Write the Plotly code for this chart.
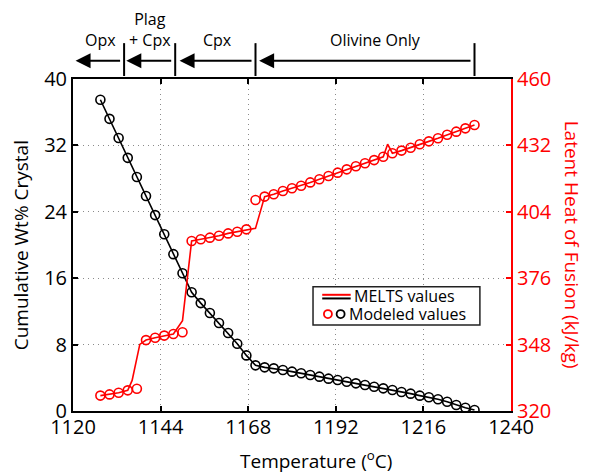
import plotly.graph_objects as go

# ---- data -------------------------------------------------------------
# temperature steps of the crystallisation model (deg C)
temps = [1127.5, 1130.0, 1132.5, 1135.0, 1137.5, 1140.0, 1142.5, 1145.0, 1147.5, 1150.0,
         1152.5, 1155.0, 1157.5, 1160.0, 1162.5, 1165.0, 1167.5, 1170.0, 1172.5, 1175.0,
         1177.5, 1180.0, 1182.5, 1185.0, 1187.5, 1190.0, 1192.5, 1195.0, 1197.5, 1200.0,
         1202.5, 1205.0, 1207.5, 1210.0, 1212.5, 1215.0, 1217.5, 1220.0, 1222.5, 1225.0,
         1227.5, 1230.0]

# cumulative crystallised mass (wt%)
crystal_wt = [37.5, 35.2, 32.9, 30.5, 28.2, 25.9, 23.6, 21.3, 18.9, 16.6,
              14.3, 13.0, 11.8, 10.6, 9.4, 8.1, 6.7, 5.5, 5.26, 5.14,
              4.94, 4.74, 4.54, 4.34, 4.14, 3.90, 3.73, 3.53, 3.33, 3.13,
              2.93, 2.73, 2.53, 2.29, 2.09, 1.85, 1.65, 1.41, 1.12, 0.72,
              0.40, 0.12]

# modeled latent heat of fusion (kJ/kg)
modeled_latent = [326.5, 327.0, 327.7, 328.7, 329.4, 349.9, 350.9, 351.8, 352.5, 353.2,
                  391.7, 392.4, 393.1, 393.9, 394.9, 395.6, 396.6, 409.0, 410.4, 411.4,
                  412.8, 413.9, 415.0, 416.4, 417.7, 419.1, 420.5, 421.9, 423.2, 424.5,
                  425.8, 427.2, 428.7, 429.8, 431.0, 432.5, 433.7, 435.0, 436.5, 437.8,
                  439.2, 440.6]

# MELTS latent heat curve (kJ/kg), with extra nodes at the phase changes
melts_temps = [1127.5, 1130.0, 1132.5, 1135.0, 1136.2, 1138.3, 1140.0, 1142.5, 1145.0, 1147.5,
               1150.0, 1152.5, 1155.0, 1157.5, 1160.0, 1162.5, 1165.0, 1167.5, 1170.0, 1172.5,
               1175.0, 1177.5, 1180.0, 1182.5, 1185.0, 1187.5, 1190.0, 1192.5, 1195.0, 1197.5,
               1200.0, 1202.5, 1205.0, 1206.2, 1207.5, 1210.0, 1212.5, 1215.0, 1217.5, 1220.0,
               1222.5, 1225.0, 1227.5, 1230.0]
melts_latent = [326.5, 327.0, 327.7, 328.7, 332.9, 348.1, 349.9, 350.9, 351.8, 352.5,
                358.1, 391.7, 392.4, 393.1, 393.9, 394.9, 395.6, 396.6, 397.0, 410.4,
                411.4, 412.8, 413.9, 415.0, 416.4, 417.7, 419.1, 420.5, 421.9, 423.2,
                424.5, 425.8, 427.2, 432.5, 428.7, 429.8, 431.0, 432.5, 433.7, 435.0,
                436.5, 437.8, 439.2, 440.6]

# MELTS crystal curve
melts_crystal = crystal_wt

# crystallising assemblage intervals (boundaries in deg C, hot -> cold)
phase_labels = ["Olivine Only", "Cpx", "Plag<br>+ Cpx", "Opx"]
phase_hot = [1230.0, 1170.0, 1148.0, 1134.0]
phase_cold = [1171.0, 1149.2, 1134.6, 1120.7]
phase_label_x = [1203.0, 1159.5, 1141.0, 1127.5]

x_ticks = [1120, 1144, 1168, 1192, 1216, 1240]
y_ticks = [0, 8, 16, 24, 32, 40]
y2_ticks = [320, 348, 376, 404, 432, 460]

RED = "#ff0000"
FONT = "Open Sans"

fig = go.Figure()

fig.add_trace(go.Scatter(x=temps, y=melts_crystal, mode="lines",
                         line=dict(color="black", width=1.6), showlegend=False))
fig.add_trace(go.Scatter(x=temps, y=crystal_wt, mode="markers",
                         marker=dict(symbol="circle-open", size=9, color="black",
                                     line=dict(width=1.6, color="black")),
                         showlegend=False))
fig.add_trace(go.Scatter(x=melts_temps, y=melts_latent, mode="lines", yaxis="y2",
                         line=dict(color=RED, width=1.6), showlegend=False))
fig.add_trace(go.Scatter(x=temps, y=modeled_latent, mode="markers", yaxis="y2",
                         marker=dict(symbol="circle-open", size=9, color=RED,
                                     line=dict(width=1.6, color=RED)),
                         showlegend=False))

shapes = []
annotations = []

# phase interval arrows above the plot
for lab, hot, cold, lx in zip(phase_labels, phase_hot, phase_cold, phase_label_x):
    shapes.append(dict(type="line", xref="x", yref="paper", x0=hot, x1=hot,
                       y0=1.009, y1=1.108, line=dict(color="black", width=2)))
    annotations.append(dict(x=cold, y=1.055, xref="x", yref="paper",
                            ax=hot, ay=0, axref="x", ayref="pixel",
                            showarrow=True, arrowhead=2, arrowsize=1.5,
                            arrowwidth=2, arrowcolor="black", standoff=0, text=" "))
    annotations.append(dict(x=lx, y=1.078, xref="x", yref="paper", text=lab,
                            showarrow=False, xanchor="center", yanchor="bottom",
                            font=dict(family=FONT, size=16, color="black")))

# legend box
shapes.append(dict(type="rect", xref="paper", yref="paper", x0=0.548, x1=0.929,
                   y0=0.259, y1=0.374, line=dict(color="#222222", width=1.5),
                   fillcolor="white", layer="above"))
shapes.append(dict(type="line", xref="paper", yref="paper", x0=0.569, x1=0.634,
                   y0=0.350, y1=0.350, line=dict(color=RED, width=2), layer="above"))
shapes.append(dict(type="line", xref="paper", yref="paper", x0=0.569, x1=0.634,
                   y0=0.339, y1=0.339, line=dict(color="black", width=2), layer="above"))
for cx, col in ((0.582, RED), (0.611, "black")):
    shapes.append(dict(type="circle", xref="paper", yref="paper",
                       xsizemode="pixel", ysizemode="pixel",
                       xanchor=cx, yanchor=0.292, x0=-4, x1=4, y0=-4, y1=4,
                       line=dict(color=col, width=1.8), layer="above"))
annotations.append(dict(x=0.637, y=0.347, xref="paper", yref="paper",
                        text="MELTS values", showarrow=False, xanchor="left",
                        yanchor="middle", font=dict(family=FONT, size=16, color="black")))
annotations.append(dict(x=0.626, y=0.291, xref="paper", yref="paper",
                        text="Modeled values", showarrow=False, xanchor="left",
                        yanchor="middle", font=dict(family=FONT, size=16, color="black")))

# axis titles
annotations.append(dict(x=-0.118, y=0.5, xref="paper", yref="paper",
                        text="Cumulative Wt% Crystal", textangle=-90, showarrow=False,
                        xanchor="center", yanchor="middle",
                        font=dict(family=FONT, size=19, color="black")))
annotations.append(dict(x=1.14, y=0.5, xref="paper", yref="paper",
                        text="Latent Heat of Fusion (kJ/kg)", textangle=90, showarrow=False,
                        xanchor="center", yanchor="middle",
                        font=dict(family=FONT, size=19, color=RED)))
annotations.append(dict(x=0.555, y=-0.148, xref="paper", yref="paper",
                        text="Temperature (<sup>o</sup>C)", showarrow=False,
                        xanchor="center", yanchor="middle",
                        font=dict(family=FONT, size=19, color="black")))

grid = dict(showgrid=True, gridcolor="#8a8a8a", griddash="1px,4px", gridwidth=1)

fig.update_layout(
    width=589, height=473,
    margin=dict(l=73, r=78, t=79, b=62),
    paper_bgcolor="white", plot_bgcolor="white",
    font=dict(family=FONT, size=20, color="black"),
    showlegend=False,
    shapes=shapes, annotations=annotations,
    xaxis=dict(range=[1120, 1240], tickvals=x_ticks, ticks="inside", ticklen=5,
               tickwidth=1.5, tickcolor="black", showline=True, linecolor="black",
               linewidth=2, mirror="ticks", zeroline=False, ticklabelstandoff=-3,
               tickfont=dict(family=FONT, size=20, color="black"), **grid),
    yaxis=dict(range=[0, 40], tickvals=y_ticks, ticks="inside", ticklen=5,
               tickwidth=1.5, tickcolor="black", showline=True, linecolor="black",
               linewidth=2, zeroline=False,
               tickfont=dict(family=FONT, size=20, color="black"), **grid),
    yaxis2=dict(range=[320, 460], tickvals=y2_ticks, overlaying="y", side="right",
                ticks="inside", ticklen=5, tickwidth=1.5, tickcolor=RED,
                showline=True, linecolor=RED, linewidth=2, showgrid=False,
                zeroline=False, tickfont=dict(family=FONT, size=20, color=RED)),
)

fig.write_html("out.html")
